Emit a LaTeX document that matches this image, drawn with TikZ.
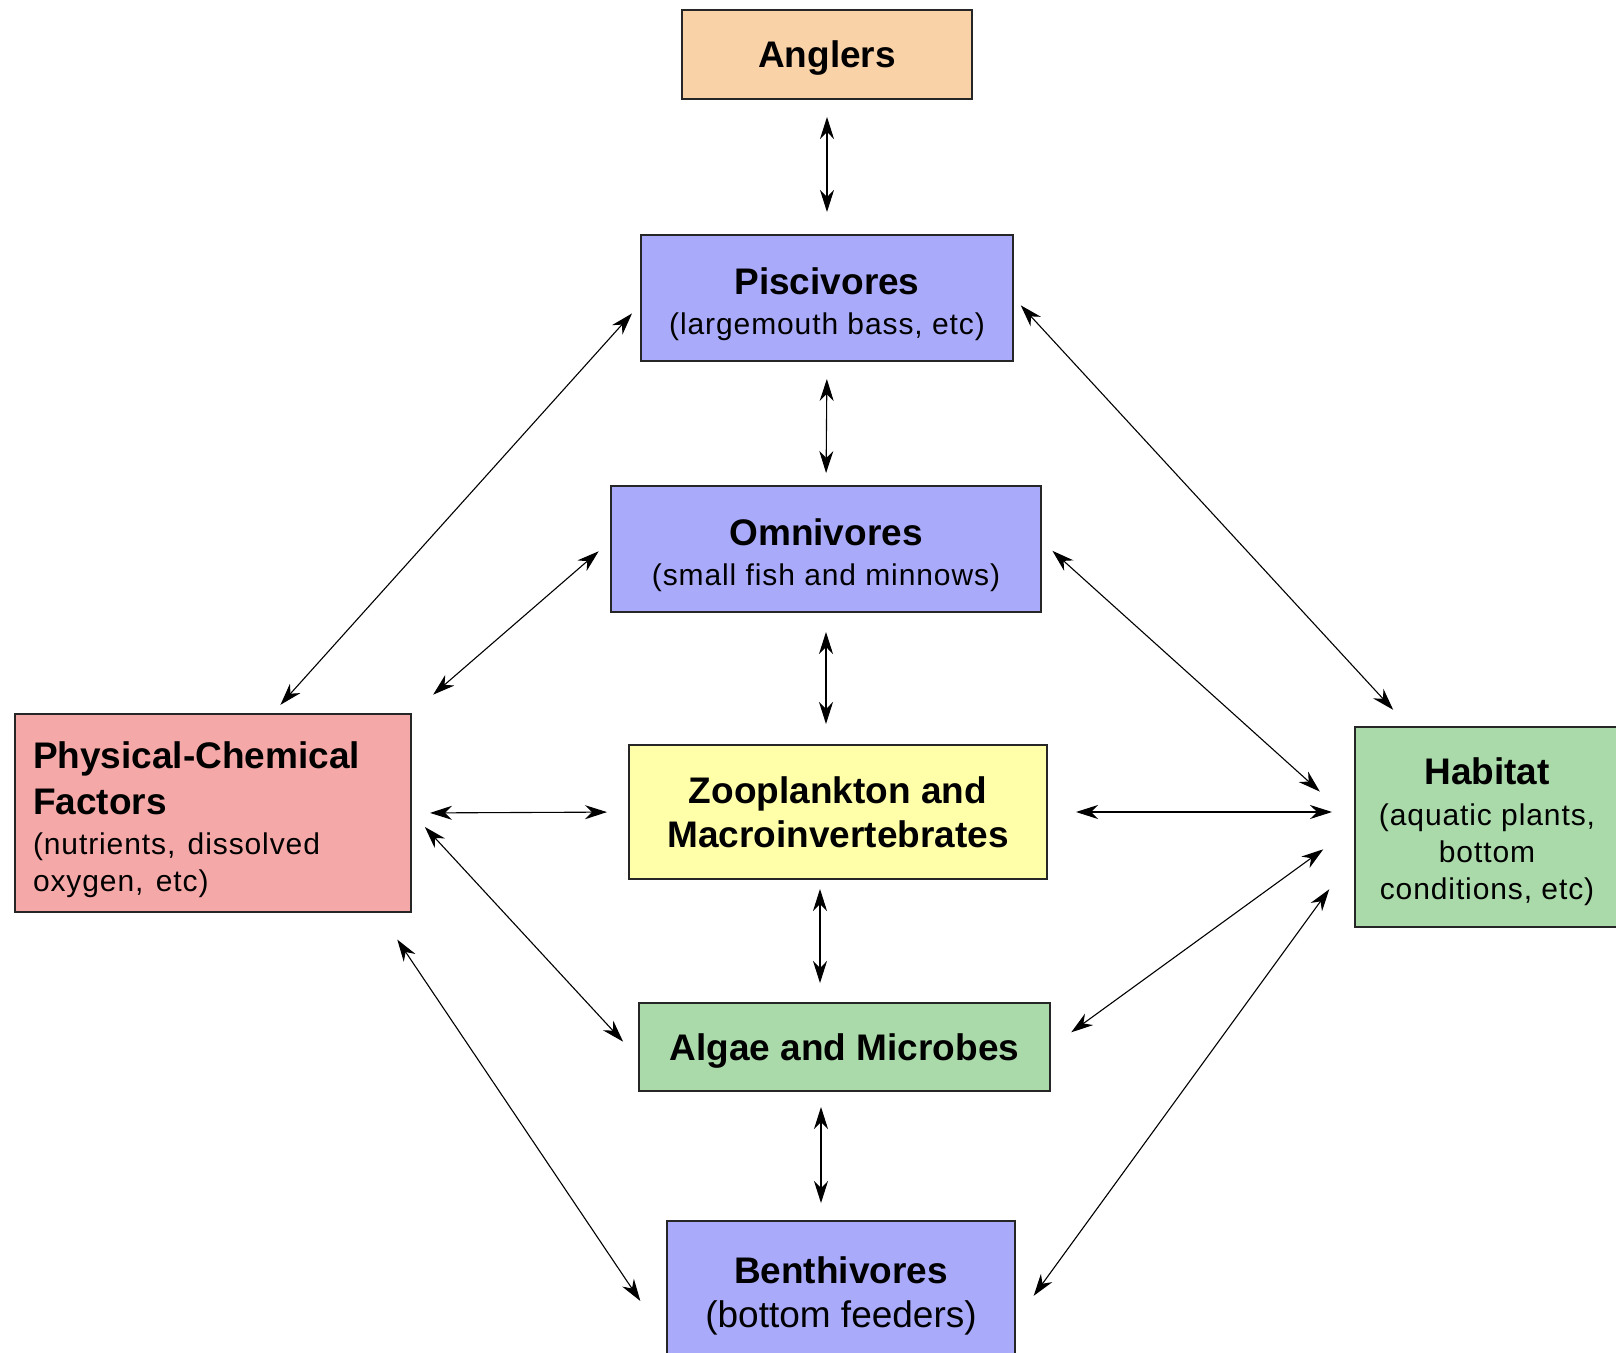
\documentclass[tikz,border=0pt]{standalone}
\usepackage{fontspec}
\setmainfont{Liberation Sans}
\newfontfamily\spacedsans[LetterSpace=3]{Liberation Sans}
\usetikzlibrary{arrows.meta}
\definecolor{peach}{RGB}{250,210,168}
\definecolor{lavender}{RGB}{170,170,250}
\definecolor{paleyellow}{RGB}{255,255,170}
\definecolor{palegreen}{RGB}{170,218,170}
\definecolor{palepink}{RGB}{245,168,168}
\newcommand\headtxt{\fontsize{18.5}{23}\selectfont\bfseries}
\newcommand\subtxt{\spacedsans\fontsize{15}{18.5}\selectfont\mdseries}
\newcommand\plaintxt{\fontsize{18.5}{23}\selectfont\mdseries}

\begin{document}
\begin{tikzpicture}[x=0.5pt,y=-0.5pt,
  box/.style={draw=black!85,line width=1pt,inner sep=0pt,align=center,font=\headtxt},
  tip/.tip={Stealth[length=11pt,width=7pt,inset=3.5pt]},
  link/.style={tip-tip,line width=0.55pt}]
  \clip (0,0) rectangle (1616,1353);
  \node[box,fill=peach,minimum width=145pt,minimum height=44.5pt,text depth=0pt] (Ang) at (827,54.5) {Anglers};
  \node[box,fill=lavender,minimum width=186pt,minimum height=63pt] (Pisc) at (827,298)
    {\rule{0pt}{20pt}Piscivores\\[-3pt]{\subtxt (largemouth bass, etc)}};
  \node[box,fill=lavender,minimum width=215pt,minimum height=63pt] (Omni) at (826,549)
    {\rule{0pt}{20pt}Omnivores\\[-3pt]{\subtxt (small fish and minnows)}};
  \node[box,fill=paleyellow,minimum width=209pt,minimum height=67pt] (Zoo) at (838,812)
    {Zooplankton and\\[-1pt]Macroinvertebrates};
  \node[box,fill=palegreen,minimum width=205.5pt,minimum height=44pt,text depth=0pt] (Alg) at (844.5,1047)
    {Algae and Microbes};
  \node[box,fill=lavender,minimum width=174pt,minimum height=74.5pt] (Benth) at (841,1295.5)
    {Benthivores\\[-1pt]{\plaintxt (bottom feeders)}};
  \node[box,fill=palepink,align=left,text width=180pt,inner xsep=9pt,minimum height=99pt] (Phys) at (213,813)
    {\rule{0pt}{20.5pt}Physical-Chemical\\Factors\\[-3pt]{\subtxt (nutrients, dissolved}\\[-4.5pt]{\subtxt oxygen, etc)}};
  \node[box,fill=palegreen,minimum width=132pt,minimum height=100pt] (Hab) at (1487,827)
    {\rule{0pt}{18.5pt}Habitat\\[-2.5pt]{\subtxt (aquatic plants,}\\[-4.5pt]{\subtxt bottom}\\[-4.5pt]{\subtxt conditions, etc)}};

  \draw[link,shorten <=8.5pt,shorten >=11pt] (Ang.south) -- (Pisc.north);
  \draw[link,shorten <=8.5pt,shorten >=6pt] (Pisc.south) -- (Omni.north);
  \draw[link,shorten <=9.5pt,shorten >=10pt] (Omni.south) -- (Omni.south |- Zoo.north);
  \draw[link,shorten <=4.5pt,shorten >=9.5pt] ([xshift=-9pt]Zoo.south) -- ([xshift=-9pt]Zoo.south |- Alg.north);
  \draw[link,shorten <=7.5pt,shorten >=8.5pt] ([xshift=-10pt]Benth.north |- Alg.south) -- ([xshift=-10pt]Benth.north);
  \draw[link,shorten <=9pt,shorten >=10.5pt] (Phys.east) -- (Zoo.west);
  \draw[link,shorten <=14pt,shorten >=11pt] (Zoo.east) -- (Zoo.east -| Hab.west);

  \draw[link,shorten <=5.5pt,shorten >=6pt] (Phys.59) -- (Pisc.182);
  \draw[link,shorten <=14pt,shorten >=7.5pt] (Phys.north east) -- (Omni.178);
  \draw[link,shorten <=9.5pt,shorten >=11pt] (Phys.east) -- (Alg.183);
  \draw[link,shorten <=16pt,shorten >=23pt] (Phys.-31) -- (Benth.194);
  \draw[link,shorten <=5pt,shorten >=11pt] (Pisc.east) -- (Hab.128);
  \draw[link,shorten <=7pt,shorten >=23pt] (Omni.2) -- (Hab.178);
  \draw[link,shorten <=12.5pt,shorten >=19pt] (Alg.east) -- (Hab.west);
  \draw[link,shorten <=15pt,shorten >=21pt] (Benth.-8) -- (Hab.192);
\end{tikzpicture}
\end{document}
